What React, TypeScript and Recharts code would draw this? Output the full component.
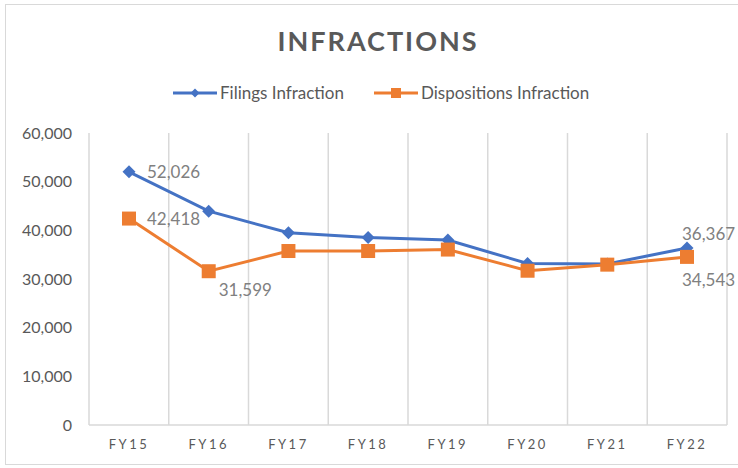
import { LineChart, Line, XAxis, YAxis, CartesianGrid } from 'recharts';

const years = ['FY15', 'FY16', 'FY17', 'FY18', 'FY19', 'FY20', 'FY21', 'FY22'];
const filings = [52026, 43940, 39500, 38550, 38000, 33200, 33100, 36367];
const dispositions = [42418, 31599, 35750, 35750, 36050, 31700, 32950, 34543];
const yTicks = [0, 10000, 20000, 30000, 40000, 50000, 60000];

// which points carry a data label
const filingsLabeled = [0, 7];
const dispositionsLabeled = [0, 1, 7];

const BLUE = '#4472c4';
const ORANGE = '#ed7d31';
const FONT = 'Lato, "Open Sans", sans-serif';

const data = years.map((year, i) => ({
    year,
    filings: filings[i],
    dispositions: dispositions[i],
}));

const fmt = (v: number) => v.toLocaleString('en-US');

const Diamond = (props: any) => {
    const { cx, cy } = props;
    if (cx == null || cy == null) return null;
    return <path d={`M${cx},${cy - 6.5} L${cx + 6.5},${cy} L${cx},${cy + 6.5} L${cx - 6.5},${cy} Z`} fill={BLUE} />;
};

const Square = (props: any) => {
    const { cx, cy } = props;
    if (cx == null || cy == null) return null;
    return <rect x={cx - 7} y={cy - 7} width={14} height={14} fill={ORANGE} />;
};

const labelStyle = { fontSize: 17, fill: '#808080', fontFamily: FONT };

const FilingsLabel = (props: any) => {
    const { x, y, index, value } = props;
    if (!filingsLabeled.includes(index)) return null;
    const last = index === years.length - 1;
    return (
        <text x={last ? x - 5 : x + 18} y={last ? y - 14 : y} dy="0.35em" textAnchor="start" style={labelStyle}>
            {fmt(value)}
        </text>
    );
};

const DispositionsLabel = (props: any) => {
    const { x, y, index, value } = props;
    if (!dispositionsLabeled.includes(index)) return null;
    let dx = 18, dy = 0;
    if (index === 1) { dx = 10; dy = 19; }
    if (index === years.length - 1) { dx = -5; dy = 23; }
    return (
        <text x={x + dx} y={y + dy} dy="0.35em" textAnchor="start" style={labelStyle}>
            {fmt(value)}
        </text>
    );
};

const LegendItem = ({ color, square, label, gap }: { color: string; square?: boolean; label: string; gap: number }) => (
    <div style={{ display: 'flex', alignItems: 'center', marginRight: gap }}>
        <svg width={44} height={14}>
            <line x1={0} y1={7} x2={44} y2={7} stroke={color} strokeWidth={3} />
            {square
                ? <rect x={17} y={2} width={10} height={10} fill={color} />
                : <path d="M22,2.5 L26.5,7 L22,11.5 L17.5,7 Z" fill={color} />}
        </svg>
        <span style={{ marginLeft: 3 }}>{label}</span>
    </div>
);

export default function App() {
    return (
        <div style={{ position: 'absolute', left: 0, top: 0, width: 738, height: 468, background: '#fff', overflow: 'hidden', fontFamily: FONT }}>
            <div style={{ position: 'absolute', left: 5, top: 4, width: 760, height: 459, border: '1.5px solid #d9d9d9' }} />
            <div style={{ position: 'absolute', left: 0, width: 756, top: 24, textAlign: 'center', fontSize: 27, fontWeight: 700, letterSpacing: 2, color: '#595959' }}>
                INFRACTIONS
            </div>
            <div style={{ position: 'absolute', left: 173, top: 82, display: 'flex', fontSize: 17, color: '#595959' }}>
                <LegendItem color={BLUE} label="Filings Infraction" gap={30} />
                <LegendItem color={ORANGE} square label="Dispositions Infraction" gap={0} />
            </div>
            <div style={{ position: 'absolute', left: 0, top: 0 }}>
                <LineChart width={738} height={468} data={data} margin={{ top: 133, right: 11, bottom: 13, left: 0 }}>
                    <CartesianGrid
                        horizontal={false}
                        stroke="#d9d9d9"
                        strokeWidth={1.5}
                        verticalCoordinatesGenerator={({ offset }: any) =>
                            Array.from({ length: years.length + 1 }, (_, i) => offset.left + (i * offset.width) / years.length)
                        }
                    />
                    <XAxis
                        dataKey="year"
                        padding={{ left: 40, right: 40 }}
                        axisLine={{ stroke: '#d9d9d9', strokeWidth: 1.5 }}
                        tickLine={false}
                        tickSize={0}
                        tickMargin={15}
                        interval={0}
                        tick={{ fontSize: 13, fill: '#595959', fontFamily: FONT, letterSpacing: 2.5 }}
                    />
                    <YAxis
                        width={89}
                        domain={[0, 60000]}
                        ticks={yTicks}
                        axisLine={false}
                        tickLine={false}
                        tickSize={10}
                        tickMargin={7}
                        tickFormatter={fmt}
                        tick={{ fontSize: 16, fill: '#595959', fontFamily: FONT }}
                    />
                    <Line
                        dataKey="filings"
                        stroke={BLUE}
                        strokeWidth={3}
                        dot={<Diamond />}
                        activeDot={false}
                        label={<FilingsLabel />}
                        isAnimationActive={false}
                    />
                    <Line
                        dataKey="dispositions"
                        stroke={ORANGE}
                        strokeWidth={3}
                        dot={<Square />}
                        activeDot={false}
                        label={<DispositionsLabel />}
                        isAnimationActive={false}
                    />
                </LineChart>
            </div>
        </div>
    );
}
